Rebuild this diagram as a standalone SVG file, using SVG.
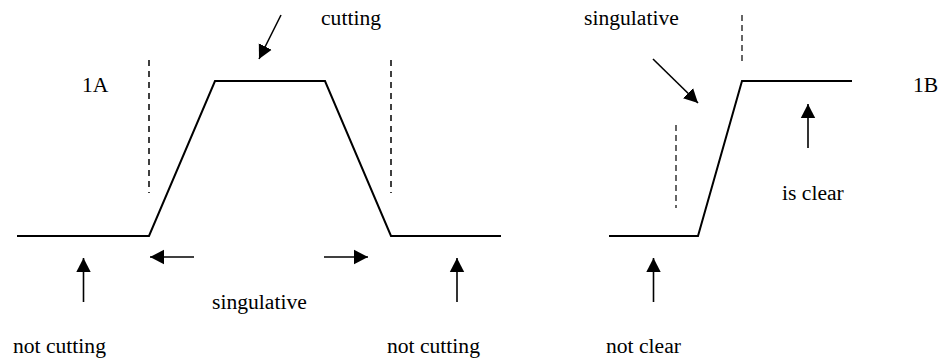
<svg xmlns="http://www.w3.org/2000/svg" width="946" height="360" viewBox="0 0 946 360">
<style>
text{font-family:'Liberation Serif','Times New Roman','DejaVu Serif',serif;font-size:21.6px;fill:#000}
.curve{fill:none;stroke:#000;stroke-width:2;stroke-linejoin:miter}
.dash{fill:none;stroke:#000;stroke-width:1.5;stroke-dasharray:6 5}
.dash2{fill:none;stroke:#000;stroke-width:1.2;stroke-dasharray:6 4}
.arr{fill:none;stroke:#000;stroke-width:1.6;marker-end:url(#ah)}
</style>
<defs>
<marker id="ah" markerUnits="userSpaceOnUse" markerWidth="16" markerHeight="16" viewBox="0 0 16 16" refX="14" refY="8" orient="auto">
<path d="M0,0.8 L14,8 L0,15.2 Z" fill="#000"/>
</marker>
</defs>
<rect width="946" height="360" fill="#fff"/>
<g id="diagram-1A">
<polyline class="curve" points="17,236 149,236 215,81 325,81 391,236 501,236"/>
<line class="dash" x1="149" y1="60" x2="149" y2="193"/>
<line class="dash" x1="391" y1="60" x2="391" y2="193"/>
<text x="82" y="92">1A</text>
</g>
<g id="diagram-1B">
<polyline class="curve" points="609,236 698,236 742,81 852,81"/>
<line class="dash2" x1="742" y1="15" x2="742" y2="61"/>
<line class="dash2" x1="676" y1="125" x2="676" y2="208"/>
<text x="913" y="92">1B</text>
</g>
<g id="labels">
<text x="321" y="25">cutting</text>
<text x="584" y="25">singulative</text>
<text x="782" y="200">is clear</text>
<text x="212" y="309">singulative</text>
<text x="13" y="353">not cutting</text>
<text x="387" y="353">not cutting</text>
<text x="606" y="353">not clear</text>
</g>
<g id="connectors">
<line class="arr" x1="281" y1="15" x2="259" y2="59"/>
<line class="arr" x1="83.5" y1="302" x2="83.5" y2="258"/>
<line class="arr" x1="194" y1="257" x2="150" y2="257"/>
<line class="arr" x1="324" y1="257" x2="368" y2="257"/>
<line class="arr" x1="457" y1="302" x2="457" y2="258"/>
<line class="arr" x1="653" y1="59" x2="698" y2="103"/>
<line class="arr" x1="808" y1="148" x2="808" y2="104"/>
<line class="arr" x1="653.5" y1="302" x2="653.5" y2="258"/>
</g>
</svg>
